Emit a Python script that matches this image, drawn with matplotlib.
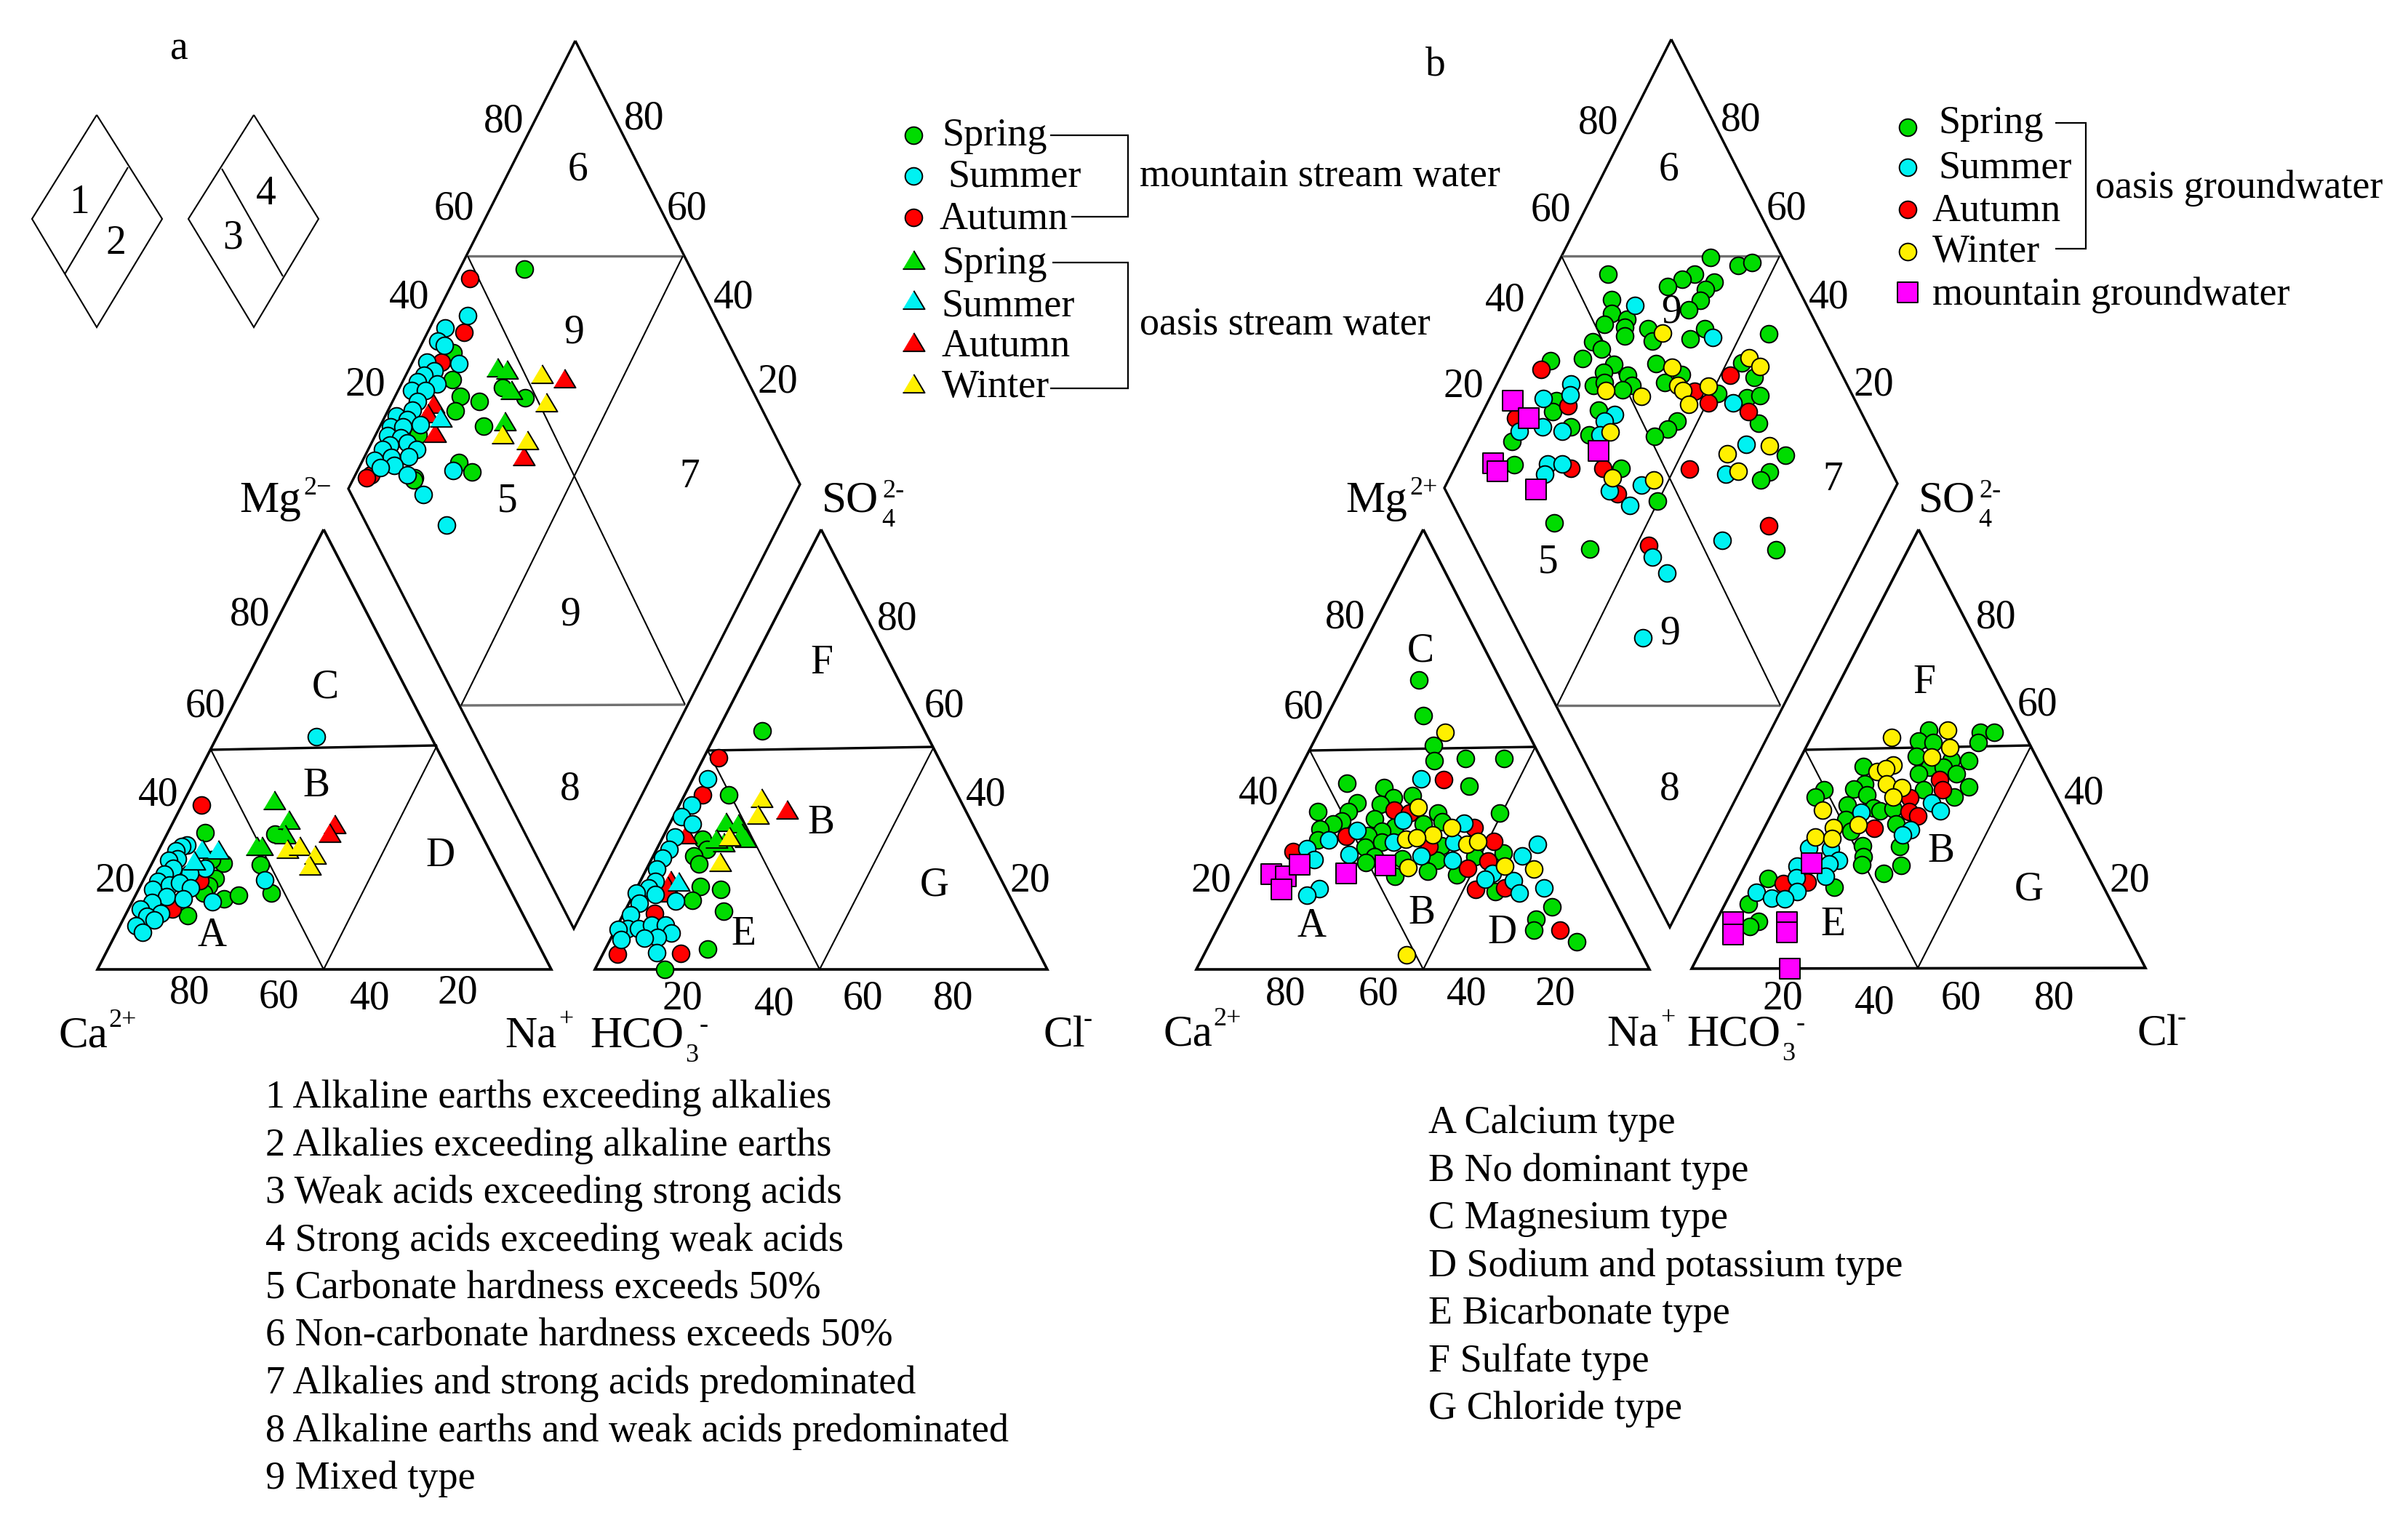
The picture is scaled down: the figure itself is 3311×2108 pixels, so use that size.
import matplotlib
matplotlib.use('Agg')
import matplotlib.pyplot as plt

plt.rcParams['font.family'] = ['Liberation Serif', 'DejaVu Serif']

# samples, in diagram units (x, y)
# --- panel a, mountain stream water (circles)
a_mountain_spring = [(721, 370), (623, 485), (622, 522), (633, 545), (659, 552), (626, 565), (665, 586), (691, 533),
                     (722, 547), (575, 598), (631, 636), (649, 649), (570, 657), (569, 660),
                     (282, 1145), (307, 1187), (296, 1208), (287, 1218), (280, 1228), (308, 1236), (328, 1231),
                     (258, 1259), (358, 1189), (373, 1228), (378, 1147), (291, 1182),
                     (1048, 1005), (1002, 1093), (966, 1154), (972, 1168), (954, 1177), (961, 1188), (963, 1219),
                     (991, 1223), (952, 1238), (995, 1253), (973, 1305), (914, 1333)]
a_mountain_summer = [(643, 434), (612, 451), (602, 469), (611, 475), (587, 498), (631, 500), (597, 510), (583, 516),
                     (601, 528), (574, 525), (566, 537), (585, 537), (574, 552), (567, 564), (545, 572), (560, 577),
                     (578, 584), (537, 587), (554, 587), (533, 599), (551, 602), (560, 609), (536, 612), (573, 618),
                     (526, 618), (562, 628), (538, 629), (515, 633), (542, 640), (523, 643), (560, 653), (623, 647),
                     (582, 680), (614, 722),
                     (435, 1013), (257, 1162), (250, 1164), (242, 1170), (244, 1181), (232, 1183), (238, 1194),
                     (282, 1194), (226, 1202), (261, 1201), (217, 1212), (233, 1217), (247, 1214), (262, 1221),
                     (210, 1223), (229, 1233), (252, 1236), (209, 1241), (193, 1250), (221, 1256), (202, 1260),
                     (212, 1265), (187, 1273), (196, 1282), (292, 1240), (364, 1210),
                     (973, 1071), (951, 1107), (937, 1123), (952, 1133), (928, 1151), (920, 1168), (911, 1180),
                     (903, 1195), (901, 1212), (892, 1221), (875, 1228), (901, 1230), (879, 1242), (929, 1239),
                     (867, 1258), (863, 1277), (850, 1278), (878, 1277), (896, 1272), (915, 1272), (923, 1283),
                     (904, 1289), (886, 1290), (854, 1292), (903, 1310)]
a_mountain_autumn = [(646, 383), (638, 457), (510, 653), (504, 657), (607, 498),
                     (277, 1107), (237, 1250), (275, 1211),
                     (988, 1042), (966, 1093), (900, 1256), (849, 1312), (936, 1311)]
# --- panel a, oasis stream water (triangles)
a_oasis_spring = [(684, 505), (697, 508), (703, 536), (694, 579),
                  (377, 1100), (397, 1127), (392, 1147), (353, 1163), (360, 1163),
                  (998, 1130), (1015, 1132), (1020, 1145), (1025, 1152), (995, 1158), (985, 1153)]
a_oasis_summer = [(606, 574), (278, 1167), (300, 1168), (267, 1183), (933, 1212)]
a_oasis_autumn = [(596, 555), (588, 568), (598, 595), (720, 627), (776, 520),
                  (460, 1133), (453, 1145),
                  (1082, 1113), (943, 1147), (922, 1210), (918, 1218), (922, 1227)]
a_oasis_winter = [(745, 514), (751, 553), (691, 597), (725, 605),
                  (395, 1167), (412, 1163), (433, 1175), (426, 1190),
                  (1047, 1097), (1042, 1120), (1003, 1150), (990, 1185)]

# --- panel b, oasis groundwater (circles)
b_spring = [(2352, 354), (2390, 365), (2409, 361), (2211, 377), (2330, 377), (2313, 384), (2293, 394), (2357, 388),
            (2345, 398), (2338, 413), (2322, 426), (2216, 412), (2216, 431), (2237, 439), (2234, 450), (2234, 462),
            (2206, 446), (2266, 452), (2272, 469), (2344, 452), (2324, 466), (2432, 459), (2190, 470), (2202, 480),
            (2176, 493), (2132, 496), (2277, 500), (2219, 501), (2205, 512), (2238, 516), (2312, 515), (2395, 499),
            (2412, 519), (2191, 530), (2206, 526), (2244, 530), (2231, 536), (2289, 526), (2362, 541), (2402, 547),
            (2420, 544), (2140, 551), (2135, 566), (2198, 564), (2418, 582), (2306, 579), (2293, 590), (2275, 600),
            (2160, 587), (2185, 598), (2079, 607), (2229, 644), (2082, 639), (2455, 626), (2433, 649), (2421, 660),
            (2279, 689), (2137, 719), (2186, 755), (2442, 756),
            (1951, 935), (1957, 984), (1971, 1025), (1972, 1046), (2015, 1043), (1852, 1077), (2020, 1081),
            (1903, 1083), (1942, 1094), (1866, 1104), (1916, 1097), (1898, 1106), (1854, 1116), (1812, 1116),
            (1890, 1126), (1977, 1118), (1845, 1129), (1833, 1133), (1815, 1140), (1957, 1133), (1918, 1137),
            (1983, 1130), (1900, 1143), (1881, 1149), (1812, 1155), (1900, 1158), (1877, 1165), (1982, 1163),
            (1890, 1178), (1928, 1181), (1976, 1183), (2028, 1178), (1878, 1186), (1963, 1198), (2003, 1203),
            (1918, 1205), (2062, 1118), (2067, 1173), (2056, 1226), (2134, 1247), (2112, 1264), (2109, 1279),
            (2168, 1295), (2068, 1043),
            (2652, 1004), (2638, 1019), (2658, 1021), (2723, 1007), (2742, 1007), (2720, 1021), (2635, 1040),
            (2683, 1045), (2707, 1046), (2562, 1054), (2653, 1055), (2672, 1055), (2638, 1064), (2690, 1064),
            (2707, 1082), (2645, 1086), (2687, 1096), (2564, 1078), (2549, 1085), (2567, 1093), (2508, 1086),
            (2496, 1096), (2540, 1107), (2576, 1111), (2585, 1115), (2603, 1112), (2538, 1127), (2607, 1133),
            (2545, 1143), (2561, 1163), (2612, 1164), (2562, 1178), (2560, 1189), (2614, 1190), (2590, 1201),
            (2431, 1208), (2522, 1220), (2404, 1243), (2418, 1267), (2406, 1274)]
b_summer = [(2248, 420), (2355, 464), (2160, 528), (2159, 543), (2122, 548), (2383, 554), (2220, 570), (2206, 579),
            (2121, 587), (2148, 593), (2089, 593), (2200, 598), (2401, 611), (2128, 638), (2148, 638), (2124, 652),
            (2373, 652), (2257, 667), (2213, 675), (2241, 695), (2368, 743), (2272, 766), (2292, 788), (2259, 877),
            (1954, 1071), (1929, 1128), (2013, 1132), (1866, 1142), (1827, 1155), (1916, 1158), (1999, 1158),
            (1797, 1167), (1855, 1175), (1954, 1177), (1807, 1182), (1997, 1183), (1814, 1222), (1797, 1231),
            (2114, 1161), (2093, 1177), (2052, 1201), (2042, 1209), (2081, 1211), (2089, 1228), (2123, 1221),
            (2656, 1104), (2668, 1115), (2559, 1117), (2627, 1141), (2616, 1148), (2487, 1166), (2517, 1167),
            (2528, 1183), (2515, 1188), (2471, 1191), (2470, 1207), (2510, 1205), (2471, 1226), (2415, 1227),
            (2436, 1235), (2454, 1236)]
b_autumn = [(2119, 508), (2379, 516), (2330, 538), (2349, 554), (2156, 558), (2404, 566), (2084, 575), (2160, 644),
            (2204, 644), (2323, 645), (2224, 679), (2432, 723), (2267, 750),
            (1985, 1072), (1917, 1114), (1938, 1118), (1851, 1150), (1778, 1171), (2027, 1138), (1965, 1164),
            (2018, 1194), (2029, 1223), (2054, 1157), (2046, 1184), (2069, 1221), (2145, 1279),
            (2667, 1072), (2671, 1086), (2626, 1097), (2625, 1116), (2637, 1122), (2577, 1139), (2452, 1215),
            (2485, 1213)]
b_winter = [(2286, 458), (2405, 492), (2420, 504), (2299, 505), (2307, 530), (2314, 537), (2349, 531), (2208, 537),
            (2257, 545), (2322, 556), (2214, 594), (2375, 624), (2433, 613), (2390, 648), (2217, 657), (2274, 660),
            (1987, 1007), (1950, 1110), (1996, 1138), (1970, 1148), (1933, 1154), (1948, 1152), (2017, 1161),
            (2032, 1157), (1936, 1193), (1934, 1313), (2069, 1191), (2109, 1195),
            (2678, 1004), (2601, 1014), (2681, 1028), (2656, 1041), (2603, 1052), (2581, 1061), (2593, 1057),
            (2594, 1078), (2615, 1083), (2603, 1096), (2506, 1114), (2555, 1134), (2521, 1138), (2496, 1151),
            (2519, 1153)]
# mountain groundwater (squares)
b_mountain = [(2080, 551), (2102, 575), (2053, 637), (2059, 648), (2198, 620), (2112, 673),
              (1748, 1202), (1768, 1205), (1762, 1223), (1787, 1189), (1851, 1201), (1905, 1190),
              (2491, 1187), (2383, 1268), (2383, 1285), (2457, 1268), (2457, 1282), (2461, 1332)]

list_numbers = ['1 Alkaline earths exceeding alkalies', '2 Alkalies exceeding alkaline earths',
                '3 Weak acids exceeding strong acids', '4 Strong acids exceeding weak acids',
                '5 Carbonate hardness exceeds 50%', '6 Non-carbonate hardness exceeds 50%',
                '7 Alkalies and strong acids predominated', '8 Alkaline earths and weak acids predominated',
                '9 Mixed type']
list_letters = ['A Calcium type', 'B No dominant type', 'C Magnesium type', 'D Sodium and potassium type',
                'E Bicarbonate type', 'F Sulfate type', 'G Chloride type']

GREEN = '#00DC00'
CYAN = '#00F2F2'
RED = '#FF0000'
YELLOW = '#FFF000'
MAGENTA = '#FF00FF'
TRI = [(-0.5, -0.42), (0.5, -0.42), (0, 0.42)]
CIRCLE = 290
TRIANGLE = 470
SQUARE = 420

fig = plt.figure(figsize=(33.12, 21.08), dpi=100)
ax = fig.add_axes([0, 0, 1, 1])
ax.set_xlim(0, 3312)
ax.set_ylim(2108, 0)
ax.axis('off')


def line(pts, lw=2.2, color='black'):
    xs, ys = zip(*pts)
    ax.plot(xs, ys, color=color, lw=lw, solid_joinstyle='miter', solid_capstyle='butt', zorder=1)


def points(data, color, marker='o', size=CIRCLE, z=3):
    xs, ys = zip(*data)
    ax.scatter(xs, ys, s=size, c=color, marker=marker, edgecolors='black', linewidths=1.4, zorder=z)


def label(x, y, s, size=40, ha='center'):
    ax.text(x, y + 3, s, fontsize=size, ha=ha, va='center', color='black', zorder=6)


def piper(top, right, bottom, left, mid_l, mid_r, low_l, low_r, lt, rt):
    # central diamond
    line([top, right, bottom, left, top], lw=2.4)
    line([mid_l, mid_r], lw=2.4, color='#707070')
    line([low_l, low_r], lw=2.4, color='#707070')
    line([mid_l, low_r], lw=1.5)
    line([mid_r, low_l], lw=1.5)
    # lower triangles
    for apex, bl, br, bc, hl, hr in (lt, rt):
        line([apex, br, bl, apex], lw=2.6)
        line([hl, hr], lw=2.4)
        line([hl, bc, hr], lw=1.5)


# small rhombi
for tx, lx, rx, p, q in ((133, 44, 223, (176, 230), (89, 377)), (349, 259, 438, (305, 232), (389, 380))):
    line([(tx, 158), (rx, 301), (tx, 450), (lx, 301), (tx, 158)], lw=1.5)
    line([p, q], lw=1.5)

piper((791, 56), (1100, 666), (789, 1277), (479, 672), (643, 352), (939, 352), (634, 970), (942, 969),
      ((445, 728), (134, 1333), (758, 1333), (445, 1333), (290, 1031), (601, 1025)),
      ((1129, 728), (818, 1333), (1440, 1333), (1127, 1333), (973, 1032), (1284, 1027)))
piper((2298, 54), (2609, 665), (2296, 1275), (1986, 671), (2147, 352), (2447, 352), (2141, 970), (2448, 970),
      ((1957, 728), (1645, 1333), (2268, 1333), (1957, 1333), (1801, 1032), (2111, 1027)),
      ((2638, 728), (2326, 1332), (2950, 1331), (2637, 1331), (2482, 1031), (2793, 1025)))

# panel a marks
points(a_mountain_spring, GREEN, z=3)
points(a_mountain_autumn, RED, z=3.1)
points(a_oasis_autumn, RED, TRI, TRIANGLE, z=3.2)
points(a_mountain_summer, CYAN, z=3.3)
points(a_oasis_spring, GREEN, TRI, TRIANGLE, z=3.4)
points(a_oasis_summer, CYAN, TRI, TRIANGLE, z=3.5)
points(a_oasis_winter, YELLOW, TRI, TRIANGLE, z=3.6)

# panel b marks
points(b_spring, GREEN, z=3)
points(b_autumn, RED, z=3.1)
points(b_summer, CYAN, z=3.2)
points(b_winter, YELLOW, z=3.3)
points(b_mountain, MAGENTA, 's', SQUARE, z=3.4)

# numbers and letters on the diagrams
for x, y, s in [(246, 64, 'a'), (1974, 86, 'b'),
                (109, 276, '1'), (159, 332, '2'), (320, 324, '3'), (366, 264, '4'),
                (693, 164, '80'), (886, 161, '80'), (624, 284, '60'), (944, 284, '60'),
                (563, 406, '40'), (1009, 407, '40'), (502, 526, '20'), (1069, 523, '20'),
                (795, 230, '6'), (789, 454, '9'), (948, 653, '7'), (698, 686, '5'), (784, 843, '9'), (784, 1083, '8'),
                (447, 942, 'C'), (435, 1078, 'B'), (292, 1284, 'A'), (606, 1174, 'D'),
                (1130, 909, 'F'), (1129, 1129, 'B'), (1285, 1215, 'G'), (1022, 1282, 'E'),
                (344, 843, '80'), (282, 968, '60'), (218, 1090, '40'), (158, 1208, '20'),
                (261, 1363, '80'), (383, 1368, '60'), (509, 1371, '40'), (629, 1363, '20'),
                (1234, 848, '80'), (1298, 968, '60'), (1356, 1090, '40'), (1416, 1208, '20'),
                (938, 1371, '20'), (1065, 1379, '40'), (1186, 1371, '60'), (1311, 1371, '80'),
                (2198, 167, '80'), (2394, 163, '80'), (2132, 286, '60'), (2456, 284, '60'),
                (2070, 410, '40'), (2515, 406, '40'), (2012, 528, '20'), (2576, 526, '20'),
                (2295, 230, '6'), (2298, 426, '9'), (2520, 657, '7'), (2129, 771, '5'),
                (2296, 869, '9'), (2296, 1083, '8'),
                (1953, 892, 'C'), (2646, 936, 'F'), (1804, 1271, 'A'), (1955, 1253, 'B'), (2066, 1280, 'D'),
                (2520, 1269, 'E'), (2790, 1220, 'G'), (2669, 1168, 'B'),
                (1850, 847, '80'), (1792, 970, '60'), (1731, 1089, '40'), (1665, 1208, '20'),
                (1768, 1365, '80'), (1895, 1365, '60'), (2017, 1365, '40'), (2138, 1365, '20'),
                (2745, 847, '80'), (2801, 967, '60'), (2866, 1088, '40'), (2928, 1208, '20'),
                (2451, 1371, '20'), (2578, 1376, '40'), (2696, 1371, '60'), (2825, 1371, '80')]:
    label(x, y, s)

# ion names, superscripts and subscripts as separate small texts
for x, y, s in [(329, 686, 'Mg'), (81, 1422, 'Ca'), (694, 1422, 'Na'), (811, 1422, 'HCO'), (1435, 1422, 'Cl'),
                (1130, 686, 'SO'),
                (1850, 686, 'Mg'), (1600, 1420, 'Ca'), (2209, 1420, 'Na'), (2319, 1420, 'HCO'), (2939, 1420, 'Cl'),
                (2638, 686, 'SO')]:
    label(x, y, s, size=44, ha='left')
for x, y, s in [(417, 668, '2−'), (149, 1400, '2+'), (768, 1400, '+'), (962, 1408, '-'), (1490, 1400, '-'),
                (1213, 672, '2-'),
                (1938, 668, '2+'), (1668, 1398, '2+'), (2283, 1398, '+'), (2470, 1406, '-'), (2994, 1398, '-'),
                (2721, 672, '2-')]:
    label(x, y, s, size=26, ha='left')
for x, y, s in [(942, 1449, '3'), (1212, 712, '4'), (2450, 1447, '3'), (2720, 712, '4')]:
    label(x, y, s, size=26, ha='left')

# legend of panel a
for y, c in zip((186, 242, 299), (GREEN, CYAN, RED)):
    points([(1256, y)], c, size=CIRCLE, z=4)
for y, c in zip((357, 412, 470, 527), (GREEN, CYAN, RED, YELLOW)):
    points([(1256, y)], c, TRI, TRIANGLE, z=4)
for x, y, s in [(1295, 184, 'Spring'), (1303, 240, 'Summer'), (1292, 298, 'Autumn'),
                (1295, 360, 'Spring'), (1294, 418, 'Summer'), (1295, 473, 'Autumn'), (1295, 530, 'Winter'),
                (1567, 240, 'mountain stream water'), (1567, 444, 'oasis stream water')]:
    label(x, y, s, size=39, ha='left')
line([(1444, 186), (1551, 186), (1551, 298), (1473, 298)], lw=1.6)
line([(1447, 361), (1551, 361), (1551, 534), (1444, 534)], lw=1.6)

# legend of panel b
for y, c in zip((175, 230, 288, 346), (GREEN, CYAN, RED, YELLOW)):
    points([(2623, y)], c, size=CIRCLE, z=4)
points([(2623, 402)], MAGENTA, 's', SQUARE, z=4)
for x, y, s in [(2665, 167, 'Spring'), (2665, 228, 'Summer'), (2657, 287, 'Autumn'), (2657, 344, 'Winter'),
                (2657, 403, 'mountain groundwater'), (2881, 256, 'oasis groundwater')]:
    label(x, y, s, size=39, ha='left')
line([(2826, 169), (2868, 169), (2868, 342), (2826, 342)], lw=1.6)

# explanations under the diagrams
for i, s in enumerate(list_numbers):
    label(365, 1507 + i * 65.5, s, size=39, ha='left')
for i, s in enumerate(list_letters):
    label(1964, 1542 + i * 65.5, s, size=39, ha='left')

fig.savefig('out.png', dpi=100, facecolor='white')
